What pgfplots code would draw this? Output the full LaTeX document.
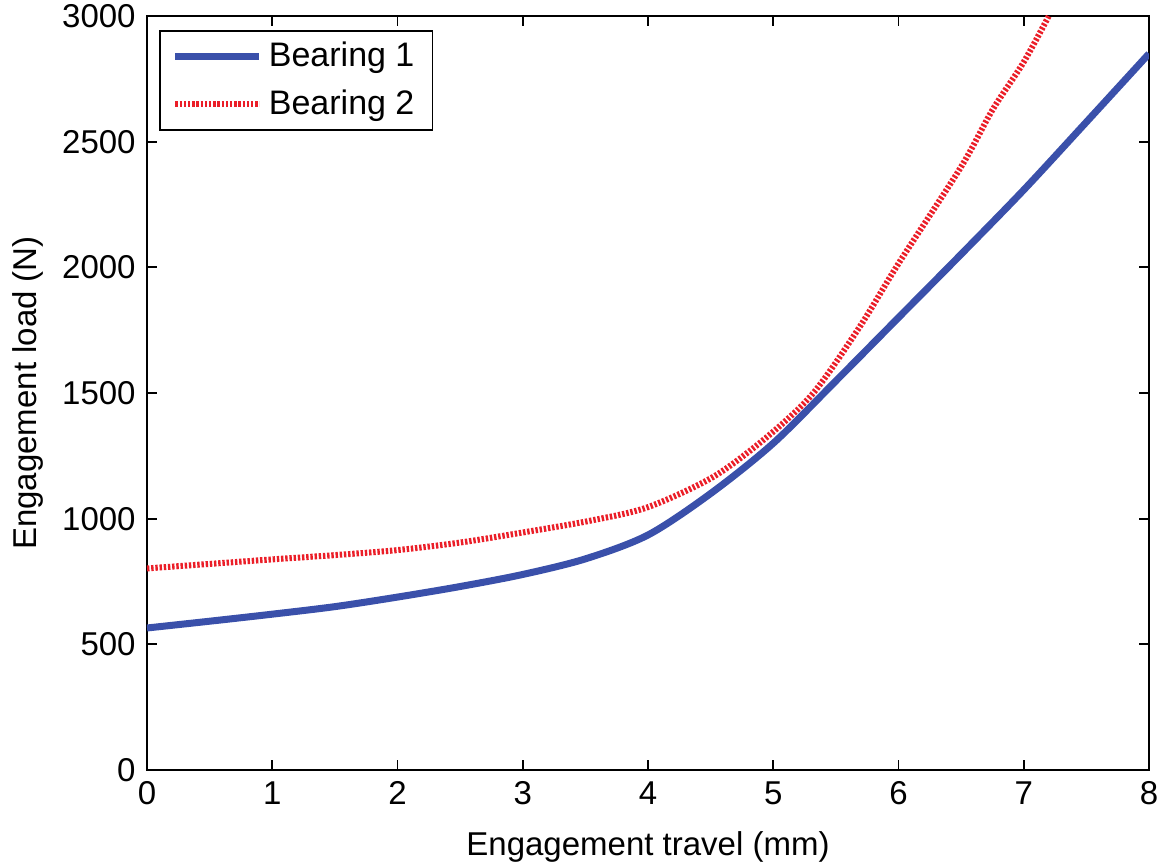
\documentclass[border=0pt]{standalone}
\usepackage{pgfplots}
\pgfplotsset{compat=1.18}
\usepackage{fontspec}
\setmainfont{Liberation Sans}
\definecolor{bblue}{RGB}{58,80,170}
\definecolor{rred}{RGB}{235,30,40}
\begin{document}
\fontsize{16.5bp}{19bp}\selectfont
\begin{tikzpicture}
\begin{axis}[
  at={(0,0)}, anchor=south west,
  width=501bp, height=377bp, scale only axis,
  xmin=0, xmax=8, ymin=0, ymax=3000,
  xtick={0,1,...,8}, ytick={0,500,...,3000},
  tick align=inside, major tick length=5bp,
  axis line style={line width=0.9bp},
  every tick/.style={black, line width=0.9bp},
  /pgf/number format/assume math mode=true,
  /pgf/number format/set thousands separator={},
  tick label style={font=\fontsize{16.5bp}{19bp}\selectfont},
  label style={font=\fontsize{16.5bp}{19bp}\selectfont},
  xlabel={Engagement travel (mm)},
  ylabel={Engagement load (N)},
  xlabel style={yshift=-2bp},
  ylabel style={yshift=-2bp},
  legend cell align=left,
  legend style={at={(6bp,370bp)}, anchor=north west, draw=black, line width=0.9bp,
    font=\fontsize{17bp}{20bp}\selectfont, inner xsep=6bp, inner ysep=3.5bp,
    row sep=5bp, nodes={inner xsep=3bp}},
  legend image code/.code={\draw[#1] (0bp,0bp) -- (42bp,0bp);},
]
\addplot[bblue, line width=3.5bp, smooth] coordinates {
(0,565) (0.5,592) (1,620) (1.5,650) (2,688) (2.5,730) (3,778) (3.5,840)
(4,935) (4.5,1100) (5,1300) (5.5,1548) (6,1800) (6.5,2052)
(7,2308) (7.5,2578) (8,2850)};
\addlegendentry{Bearing 1}
\addplot[rred, line width=3bp, dash pattern=on 1.2bp off 0.9bp, smooth] coordinates {
(0,802) (0.5,820) (1,838) (1.5,855) (2,875) (2.5,905) (3,945) (3.54,992)
(4,1046) (4.52,1166) (4.95,1325) (5.32,1500) (5.69,1763) (6,2015)
(6.5,2400) (6.75,2626) (7,2817) (7.2,3000)};
\addlegendentry{Bearing 2}
\end{axis}
\pgfresetboundingbox
\path[use as bounding box] (-73.5bp,-48.5bp) rectangle (508bp,385bp);
\end{tikzpicture}
\end{document}
